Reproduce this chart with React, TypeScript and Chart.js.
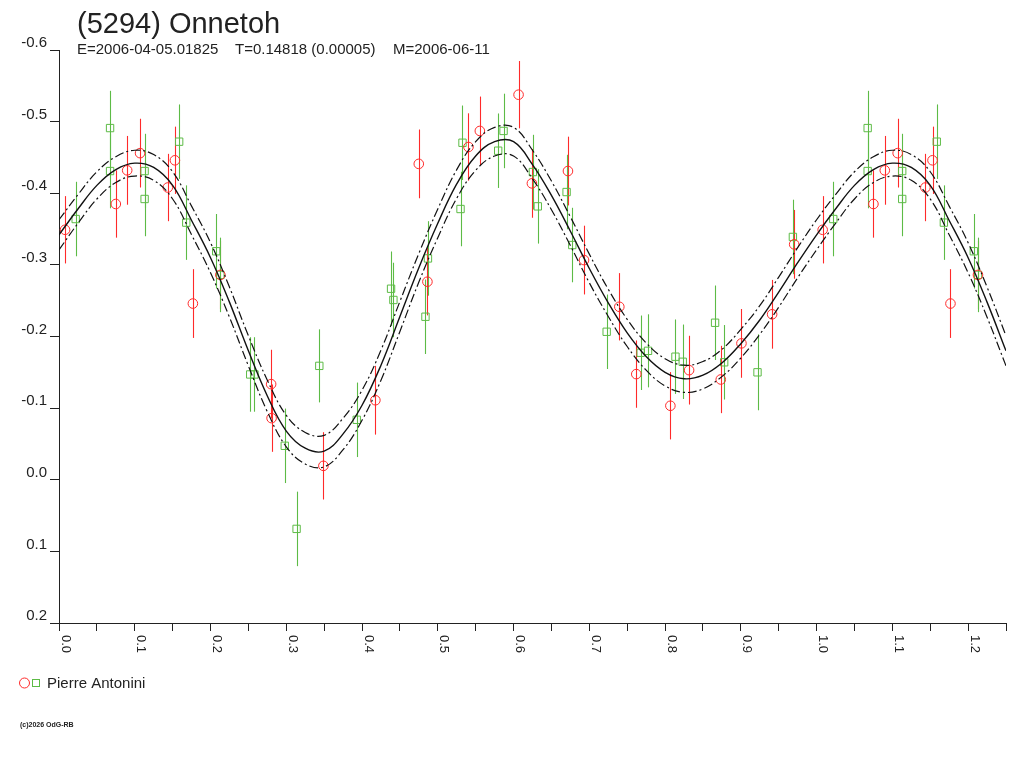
import React, { useEffect, useRef } from "react";
import { Chart, registerables } from "chart.js";

Chart.register(...registerables);

// ---------- data ----------
const TITLE = "(5294) Onnetoh";
const SUB_E = "E=2006-04-05.01825";
const SUB_T = "T=0.14818 (0.00005)";
const SUB_M = "M=2006-06-11";
const OBSERVER = "Pierre Antonini";
const COPYRIGHT = "(c)2026 OdG-RB";

// phase repeated beyond 1.0 up to this value (the chart shows 1.25 cycles)
const PHASE_MAX = 1.25;
const X_TICK_LABELS = ["0.0", "0.1", "0.2", "0.3", "0.4", "0.5", "0.6", "0.7", "0.8", "0.9", "1.0", "1.1", "1.2"];

// red circles
const redPhase = [0.008, 0.075, 0.09, 0.107, 0.1436, 0.153, 0.1767, 0.213, 0.28, 0.2806, 0.349, 0.4176, 0.4749, 0.4863, 0.5405, 0.5555, 0.6066, 0.6242, 0.6718, 0.693, 0.7396, 0.762, 0.807, 0.8317, 0.8735, 0.9008, 0.9413, 0.9704];
const redMag = [-0.349, -0.385, -0.432, -0.456, -0.408, -0.446, -0.246, -0.286, -0.1335, -0.086, -0.0194, -0.111, -0.441, -0.2765, -0.4646, -0.487, -0.5376, -0.4138, -0.431, -0.3067, -0.2415, -0.1475, -0.1033, -0.153, -0.14, -0.1904, -0.231, -0.3287];
const redErr = [0.047, 0.047, 0.048, 0.048, 0.047, 0.047, 0.048, 0.048, 0.048, 0.047, 0.047, 0.048, 0.048, 0.047, 0.047, 0.048, 0.047, 0.048, 0.048, 0.048, 0.047, 0.047, 0.047, 0.048, 0.047, 0.048, 0.048, 0.048];

// green squares
const greenPhase = [0.022, 0.0674, 0.0674, 0.113, 0.113, 0.1586, 0.168, 0.2075, 0.213, 0.2524, 0.258, 0.298, 0.3136, 0.3436, 0.393, 0.4383, 0.4414, 0.487, 0.4837, 0.53, 0.5326, 0.5797, 0.5868, 0.6255, 0.632, 0.67, 0.6775, 0.7229, 0.7678, 0.7775, 0.8137, 0.8233, 0.866, 0.878, 0.922, 0.9687];
const greenMag = [-0.364, -0.491, -0.431, -0.431, -0.392, -0.472, -0.359, -0.319, -0.286, -0.147, -0.147, -0.0474, 0.0686, -0.159, -0.0837, -0.2667, -0.251, -0.309, -0.2276, -0.378, -0.4705, -0.4594, -0.487, -0.4296, -0.3817, -0.4017, -0.3277, -0.2066, -0.1773, -0.18, -0.1718, -0.1647, -0.2192, -0.164, -0.15, -0.339];
const greenErr = [0.052, 0.052, 0.052, 0.052, 0.052, 0.052, 0.052, 0.052, 0.052, 0.052, 0.052, 0.052, 0.052, 0.051, 0.052, 0.052, 0.052, 0.052, 0.052, 0.052, 0.052, 0.052, 0.052, 0.052, 0.052, 0.052, 0.052, 0.052, 0.052, 0.051, 0.052, 0.052, 0.052, 0.052, 0.053, 0.052];

// fitted light curve, one period
const fitPhase = [0, 0.025, 0.05, 0.075, 0.1, 0.125, 0.15, 0.175, 0.2, 0.225, 0.25, 0.275, 0.3, 0.325, 0.35, 0.375, 0.4, 0.425, 0.45, 0.475, 0.5, 0.525, 0.55, 0.575, 0.6, 0.625, 0.65, 0.675, 0.7, 0.725, 0.75, 0.775, 0.8, 0.825, 0.85, 0.875, 0.9, 0.925, 0.95, 0.975, 1.0];
const fitMag = [-0.342, -0.378, -0.411, -0.433, -0.442, -0.436, -0.411, -0.362, -0.31, -0.248, -0.18, -0.117, -0.068, -0.044, -0.04, -0.064, -0.104, -0.16, -0.228, -0.296, -0.358, -0.413, -0.452, -0.472, -0.472, -0.44, -0.397, -0.347, -0.295, -0.247, -0.205, -0.172, -0.15, -0.141, -0.146, -0.163, -0.19, -0.223, -0.262, -0.303, -0.342];
const fitSigma = [0.021, 0.02, 0.019, 0.018, 0.018, 0.018, 0.019, 0.02, 0.021, 0.021, 0.021, 0.022, 0.022, 0.022, 0.022, 0.022, 0.021, 0.021, 0.021, 0.02, 0.02, 0.02, 0.02, 0.02, 0.02, 0.02, 0.02, 0.02, 0.02, 0.019, 0.019, 0.019, 0.019, 0.019, 0.019, 0.019, 0.02, 0.02, 0.021, 0.021, 0.021];

const RED = "#ff2a2a";
const GREEN = "#5dbb46";
const INK = "#222222";
const FONT = "'Liberation Sans', Arial, sans-serif";

// ---------- helpers: fold phases so that the first part of the cycle is repeated after 1.0 ----------
type Pt = { x: number; y: number; e?: number };

function foldPoints(ph: number[], mag: number[], err: number[]): Pt[] {
  const out: Pt[] = ph.map((p, i) => ({ x: p, y: mag[i], e: err[i] }));
  ph.forEach((p, i) => {
    if (p + 1 <= PHASE_MAX) out.push({ x: p + 1, y: mag[i], e: err[i] });
  });
  return out;
}

function foldCurve(vals: number[]): Pt[] {
  const out: Pt[] = fitPhase.map((p, i) => ({ x: p, y: vals[i] }));
  fitPhase.forEach((p, i) => {
    if (p > 0 && p + 1 <= PHASE_MAX + 1e-9) out.push({ x: p + 1, y: vals[i] });
  });
  return out;
}

const errorBarPlugin = {
  id: "errorBars",
  beforeDatasetsDraw(chart: any) {
    const { ctx, scales } = chart;
    const ys = scales.y;
    const xs = scales.x;
    chart.data.datasets.forEach((ds: any) => {
      if (!ds.errorBars) return;
      ctx.save();
      ctx.strokeStyle = ds.borderColor;
      ctx.lineWidth = 1.1;
      ds.data.forEach((pt: Pt) => {
        const px = Math.round(xs.getPixelForValue(pt.x)) + 0.5;
        const y1 = ys.getPixelForValue(pt.y - (pt.e || 0));
        const y2 = ys.getPixelForValue(pt.y + (pt.e || 0));
        ctx.beginPath();
        ctx.moveTo(px, y1);
        ctx.lineTo(px, y2);
        ctx.stroke();
      });
      ctx.restore();
    });
  },
};

const decorPlugin = {
  id: "decor",
  afterDraw(chart: any) {
    const { ctx, scales } = chart;
    const xs = scales.x;
    ctx.save();
    ctx.fillStyle = INK;
    ctx.textAlign = "left";
    ctx.textBaseline = "alphabetic";
    // title
    ctx.font = `29px ${FONT}`;
    ctx.fillText(TITLE, 77, 33);
    // subtitle
    ctx.font = `15px ${FONT}`;
    ctx.fillText(SUB_E, 77, 54);
    ctx.fillText(SUB_T, 235, 54);
    ctx.fillText(SUB_M, 393, 54);

    // x tick labels, rotated to read top-to-bottom
    ctx.font = `13px ${FONT}`;
    X_TICK_LABELS.forEach((lab) => {
      const v = parseFloat(lab);
      const px = xs.getPixelForValue(v);
      ctx.save();
      ctx.translate(px + 2.5, xs.top + 12);
      ctx.rotate(Math.PI / 2);
      ctx.fillText(lab, 0, 0);
      ctx.restore();
    });

    // legend
    ctx.lineWidth = 1;
    ctx.strokeStyle = RED;
    ctx.beginPath();
    ctx.arc(24.5, 683, 5, 0, Math.PI * 2);
    ctx.stroke();
    ctx.strokeStyle = GREEN;
    ctx.strokeRect(32.5, 679.5, 7, 7);
    ctx.fillStyle = INK;
    ctx.font = `15px ${FONT}`;
    ctx.fillText(OBSERVER, 47, 688);

    // copyright
    ctx.font = `bold 7px ${FONT}`;
    ctx.fillText(COPYRIGHT, 20, 727);
    ctx.restore();
  },
};

export default function App() {
  const canvasRef = useRef<HTMLCanvasElement | null>(null);

  useEffect(() => {
    if (!canvasRef.current) return;
    const upper = fitMag.map((m, i) => m - fitSigma[i]);
    const lower = fitMag.map((m, i) => m + fitSigma[i]);
    const dashDot = [9, 3, 2, 3];

    const chart = new Chart(canvasRef.current, {
      type: "scatter",
      data: {
        datasets: [
          {
            label: "fit",
            data: foldCurve(fitMag),
            showLine: true,
            borderColor: "#111111",
            borderWidth: 1.4,
            pointRadius: 0,
            tension: 0.4,
          } as any,
          {
            label: "fit+",
            data: foldCurve(upper),
            showLine: true,
            borderColor: "#111111",
            borderWidth: 1.2,
            borderDash: dashDot,
            pointRadius: 0,
            tension: 0.4,
          } as any,
          {
            label: "fit-",
            data: foldCurve(lower),
            showLine: true,
            borderColor: "#111111",
            borderWidth: 1.2,
            borderDash: dashDot,
            pointRadius: 0,
            tension: 0.4,
          } as any,
          {
            label: OBSERVER + " (1)",
            data: foldPoints(redPhase, redMag, redErr),
            errorBars: true,
            borderColor: RED,
            backgroundColor: "rgba(0,0,0,0)",
            borderWidth: 1,
            pointStyle: "circle",
            pointRadius: 4.8,
          } as any,
          {
            label: OBSERVER + " (2)",
            data: foldPoints(greenPhase, greenMag, greenErr),
            errorBars: true,
            borderColor: GREEN,
            backgroundColor: "rgba(0,0,0,0)",
            borderWidth: 1,
            pointStyle: "rect",
            pointRadius: 5.2,
          } as any,
        ],
      },
      options: {
        animation: false,
        responsive: true,
        maintainAspectRatio: false,
        layout: { padding: { top: 50, right: 18, left: 0, bottom: 0 } },
        plugins: {
          legend: { display: false },
          tooltip: { enabled: false },
          title: { display: false },
        },
        scales: {
          x: {
            type: "linear",
            min: 0,
            max: PHASE_MAX,
            ticks: { stepSize: 0.05, display: false },
            grid: {
              display: true,
              drawOnChartArea: false,
              drawTicks: true,
              tickLength: 8,
              color: INK,
              lineWidth: 1,
            },
            border: { display: true, color: INK, width: 1 },
            afterFit(scale: any) {
              scale.height = 145;
              scale.paddingLeft = 0;
              scale.paddingRight = 0;
            },
          },
          y: {
            type: "linear",
            min: -0.6,
            max: 0.2,
            reverse: true,
            ticks: {
              stepSize: 0.1,
              color: INK,
              padding: 3,
              labelOffset: -7,
              font: { family: FONT, size: 15 },
              callback: (v: any) => {
                const n = Number(v);
                return (Math.abs(n) < 1e-9 ? 0 : n).toFixed(1);
              },
            },
            grid: {
              display: true,
              drawOnChartArea: false,
              drawTicks: true,
              tickLength: 9,
              color: INK,
              lineWidth: 1,
            },
            border: { display: true, color: INK, width: 1 },
            afterFit(scale: any) {
              scale.width = 59;
              scale.paddingTop = 0;
              scale.paddingBottom = 0;
            },
          },
        },
      } as any,
      plugins: [errorBarPlugin, decorPlugin],
    });
    return () => chart.destroy();
  }, []);

  return (
    <div style={{ position: "fixed", left: 0, top: 0, width: 1024, height: 768, background: "#ffffff" }}>
      <canvas ref={canvasRef} />
    </div>
  );
}
